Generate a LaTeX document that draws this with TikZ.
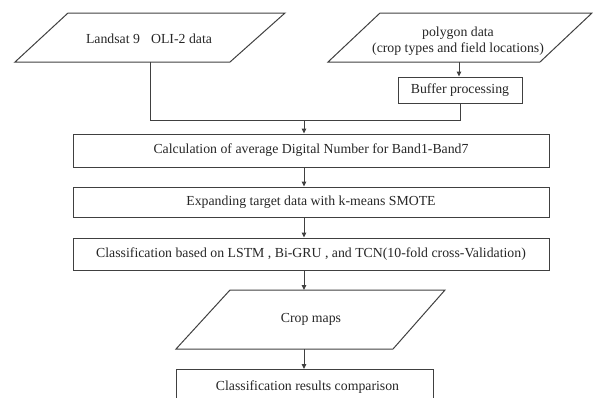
\documentclass[tikz,border=0pt]{standalone}
\usepackage{fontspec}
\setmainfont{Liberation Serif}
\usetikzlibrary{arrows.meta,calc}
\tikzset{
  lbl/.style={font=\fontsize{13.8}{16.5}\selectfont, text=black!85, inner sep=0pt, align=center},
  procbox/.style={lbl, draw=black!75, line width=1pt, inner sep=0pt},
  ln/.style={draw=black!75, line width=1pt},
  arr/.style={ln, -{Triangle[length=5pt,width=4.5pt]}},
}
\begin{document}
\begin{tikzpicture}[x=1pt,y=-1pt]
\useasboundingbox (0,0) rectangle (593,397);
\coordinate (ax) at (304,0);

% Landsat parallelogram
\draw[ln] (68,13) -- (285,13) -- (230,62) -- (15,62) -- cycle;
\node[lbl] (ls) at (149,39) {Landsat 9\hspace{0.8em}OLI-2 data};
\coordinate (lsb) at (150,62);

% Polygon parallelogram
\draw[ln] (380,13) -- (592,13) -- (540,62) -- (328,62) -- cycle;
\node[lbl] (pg) at (458,41) {polygon data\\(crop types and field locations)};
\coordinate (pgb) at (459,62);

% Buffer
\node[procbox, minimum width=124pt, minimum height=26pt] (buf) at (460,90) {Buffer processing};

% Main boxes
\node[procbox, minimum width=476pt, minimum height=33pt] (calc) at (311,150.5) {Calculation of average Digital Number for Band1-Band7};
\node[procbox, minimum width=476pt, minimum height=30pt] (exp) at (311,202) {Expanding target data with k-means SMOTE};
\node[procbox, minimum width=476pt, minimum height=32pt] (cls) at (311,254) {Classification based on LSTM , Bi-GRU , and TCN(10-fold cross-Validation)};

% Crop maps parallelogram
\draw[ln] (230,290) -- (445,290) -- (393,349) -- (176,349) -- cycle;
\node[lbl] (crop) at (311,319) {Crop maps};
\coordinate (cropt) at (304,290);
\coordinate (cropb) at (304,349);

% Last box
\node[procbox, minimum width=257pt, minimum height=40pt, anchor=north] (res) at (304.5,369) {};
\node[lbl] (restxt) at (307.5,387) {Classification results comparison};

% Connectors
\coordinate (j1) at (150,120);
\coordinate (j2) at (460,120);
\draw[ln] (lsb) -- (j1) -- (j2) -- (buf.south);
\draw[arr] (pgb) -- (pgb |- buf.north);
\draw[arr] (ax |- j1) -- (calc.north -| ax);
\draw[arr] (calc.south -| ax) -- (exp.north -| ax);
\draw[arr] (exp.south -| ax) -- (cls.north -| ax);
\draw[arr] (cls.south -| ax) -- (cropt);
\draw[arr] (cropb) -- (res.north -| ax);
\end{tikzpicture}
\end{document}
